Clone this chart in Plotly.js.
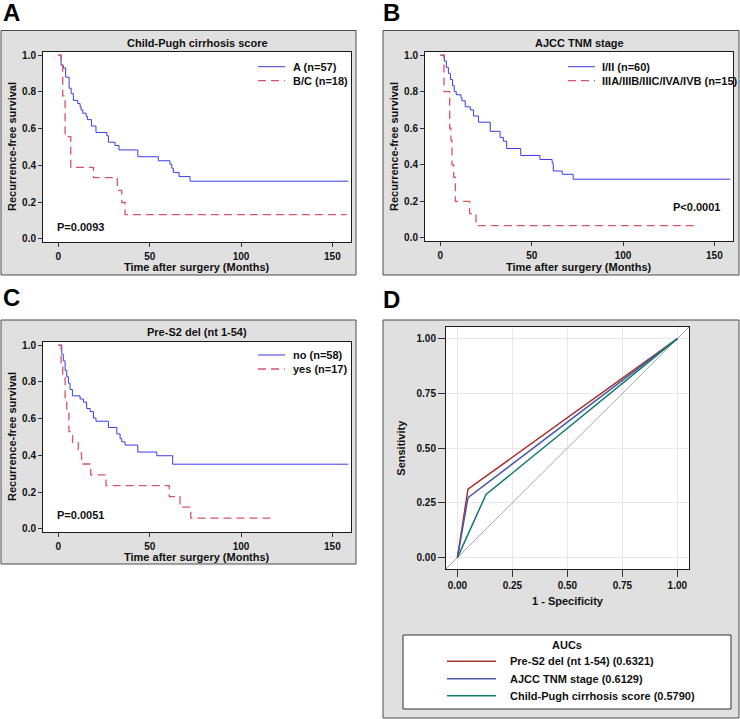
<!DOCTYPE html>
<html>
<head>
<meta charset="utf-8">
<script src="https://cdn.plot.ly/plotly-3.0.1.min.js"></script>
<style>
  html, body { margin: 0; padding: 0; background: #fff; }
  #chart { width: 740px; height: 719px; }
</style>
</head>
<body>
<div id="chart"></div>
<script>
// ---- data ----
const monthTicks = [0, 50, 100, 150];
const survTicks = [0, 0.2, 0.4, 0.6, 0.8, 1.0];
const rocTicks = [0, 0.25, 0.5, 0.75, 1];

// A: Child-Pugh cirrhosis score
const childA_t = [0, 1.5, 2.7, 4.0, 5.9, 7.0, 8.2, 10.6, 11.9, 12.4, 13.4, 15.2, 15.9, 18.1, 20.6, 26.5, 27.4, 31.0, 33.2, 43.5, 54.7, 61.1, 62.1, 62.9, 66.1, 72.1, 158.7];
const childA_s = [1, 0.946, 0.93, 0.88, 0.82, 0.79, 0.754, 0.737, 0.719, 0.702, 0.684, 0.667, 0.649, 0.614, 0.579, 0.561, 0.526, 0.508, 0.484, 0.447, 0.425, 0.406, 0.385, 0.362, 0.339, 0.314, 0.314];
const childBC_t = [0, 1.5, 2.4, 3.7, 6.8, 19.2, 32.3, 34.7, 36.5, 157.8];
const childBC_s = [1, 0.944, 0.778, 0.556, 0.389, 0.333, 0.264, 0.198, 0.132, 0.132];

// B: AJCC TNM stage
const stageLow_t = [0, 2.2, 3.3, 4.4, 5.5, 6.7, 7.6, 8.7, 11.3, 11.8, 13.6, 16.4, 18.2, 20.9, 27.3, 32.7, 34.5, 36.3, 44.0, 54.5, 61.2, 61.8, 66.7, 72.7, 158.7];
const stageLow_s = [1, 0.967, 0.933, 0.9, 0.867, 0.833, 0.8, 0.783, 0.767, 0.75, 0.717, 0.7, 0.667, 0.633, 0.583, 0.55, 0.529, 0.489, 0.451, 0.429, 0.41, 0.366, 0.348, 0.321, 0.321];
const stageHigh_t = [0, 2.0, 5.1, 5.8, 6.4, 7.3, 8.2, 16.0, 19.5, 140.8];
const stageHigh_s = [1, 0.8, 0.6, 0.533, 0.4, 0.333, 0.2, 0.133, 0.067, 0.067];

// C: Pre-S2 del (nt 1-54)
const delNo_t = [0, 1.9, 2.7, 3.7, 4.6, 5.5, 6.4, 7.7, 11.9, 13.7, 15.5, 17.4, 19.2, 20.6, 27.4, 32.0, 33.8, 34.7, 36.5, 43.5, 53.9, 62.6, 158.7];
const delNo_s = [1, 0.95, 0.914, 0.862, 0.828, 0.793, 0.759, 0.724, 0.707, 0.69, 0.655, 0.638, 0.603, 0.586, 0.552, 0.517, 0.491, 0.474, 0.456, 0.418, 0.398, 0.352, 0.352];
const delYes_t = [0, 1.5, 2.4, 3.7, 4.6, 5.8, 7.8, 10.9, 12.7, 17.7, 26.1, 60.7, 66.6, 72.5, 118.6];
const delYes_s = [1, 0.882, 0.824, 0.706, 0.647, 0.529, 0.471, 0.412, 0.353, 0.294, 0.235, 0.176, 0.118, 0.059, 0.059];

// D: ROC curves (1 - specificity, sensitivity)
const rocNames = ['Pre-S2 del (nt 1-54) (0.6321)', 'AJCC TNM stage (0.6129)', 'Child-Pugh cirrhosis score (0.5790)'];
const rocFpr = [[0, 0.048, 1], [0, 0.048, 1], [0, 0.13, 1]];
const rocSens = [[0, 0.3125, 1], [0, 0.2738, 1], [0, 0.288, 1]];
const chanceLine = [-0.06, 1.06];

// ---- style ----
const FONT = 'Liberation Sans, Arial, sans-serif';
const BLUE = '#3b3bea';
const RED = '#d9536c';
const rocColors = ['#a8322b', '#4b5aa8', '#117a6f'];
const GRAY = '#e0e0e0';
const W = 740, H = 719;

const px = (x) => x / W;
const py = (y) => 1 - y / H;

function kmTrace(t, s, color, dash, ax) {
    return {
        x: t, y: s, type: 'scatter', mode: 'lines',
        line: {shape: 'hv', color, width: dash ? 1.3 : 1, dash: dash || 'solid'},
        xaxis: 'x' + ax, yaxis: 'y' + ax,
        hoverinfo: 'skip', showlegend: false,
    };
}

function axis(domain, range, tickvals, extra) {
    return Object.assign({
        domain, range, tickvals,
        showline: true, mirror: true, linecolor: '#1a1a1a', linewidth: 1,
        ticks: 'outside', ticklen: 4, tickwidth: 1, tickcolor: '#333',
        showgrid: false, zeroline: false, fixedrange: true,
        tickfont: {family: FONT, size: 10, color: '#111', weight: 'bold'},
    }, extra || {});
}

function text(str, x, y, opts) {
    return Object.assign({
        text: str, xref: 'paper', yref: 'paper', x: px(x), y: py(y),
        showarrow: false, xanchor: 'center', yanchor: 'middle',
        font: {family: FONT, size: 11, color: '#111', weight: 'bold'},
    }, opts || {});
}

function box(x0, y0, x1, y1, fill, lineColor) {
    return {
        type: 'rect', xref: 'paper', yref: 'paper', layer: 'below',
        x0: px(x0), x1: px(x1), y0: py(y1), y1: py(y0),
        fillcolor: fill, line: {color: lineColor, width: 1},
    };
}

function plotBg(ax) {
    return {
        type: 'rect', xref: 'x' + ax + ' domain', yref: 'y' + ax + ' domain', layer: 'below',
        x0: 0, x1: 1, y0: 0, y1: 1, fillcolor: '#ffffff', line: {width: 0},
    };
}

function seg(x0, x1, y, color, dash, width) {
    return {
        type: 'line', xref: 'paper', yref: 'paper',
        x0: px(x0), x1: px(x1), y0: py(y), y1: py(y),
        line: {color, width: width || 1, dash: dash || 'solid'},
    };
}

const DASH = '8px,5px';
const letterFont = {family: FONT, size: 24, color: '#000', weight: 'bold'};

const data = [
    kmTrace(childA_t, childA_s, BLUE, null, ''),
    kmTrace(childBC_t, childBC_s, RED, DASH, ''),
    kmTrace(stageLow_t, stageLow_s, BLUE, null, '2'),
    kmTrace(stageHigh_t, stageHigh_s, RED, DASH, '2'),
    kmTrace(delNo_t, delNo_s, BLUE, null, '3'),
    kmTrace(delYes_t, delYes_s, RED, DASH, '3'),
    {
        x: chanceLine, y: chanceLine, type: 'scatter', mode: 'lines',
        line: {color: '#a6a6a6', width: 1}, xaxis: 'x4', yaxis: 'y4',
        hoverinfo: 'skip', showlegend: false,
    },
];
rocNames.forEach((name, i) => {
    data.push({
        x: rocFpr[i], y: rocSens[i], name, type: 'scatter', mode: 'lines',
        line: {color: rocColors[i], width: 1.5}, xaxis: 'x4', yaxis: 'y4',
        hoverinfo: 'skip', showlegend: false,
    });
});

const monthRange = [-8.4, 160.2];
const survRange = [-0.017, 1.017];
const rocRange = [-0.052, 1.053];

const layout = {
    width: W, height: H,
    margin: {l: 0, r: 0, t: 0, b: 0},
    paper_bgcolor: '#ffffff', plot_bgcolor: '#ffffff',
    showlegend: false,
    xaxis: axis([px(43), px(351)], monthRange, monthTicks, {anchor: 'y', ticklabelstandoff: 1}),
    yaxis: axis([py(242), py(52)], survRange, survTicks, {anchor: 'x', tickformat: '.1f'}),
    xaxis2: axis([px(425), px(733)], monthRange, monthTicks, {anchor: 'y2', ticklabelstandoff: 1}),
    yaxis2: axis([py(241), py(52)], survRange, survTicks, {anchor: 'x2', tickformat: '.1f'}),
    xaxis3: axis([px(43), px(351)], monthRange, monthTicks, {anchor: 'y3', ticklabelstandoff: 1}),
    yaxis3: axis([py(532), py(342)], survRange, survTicks, {anchor: 'x3', tickformat: '.1f'}),
    xaxis4: axis([px(446), px(689)], rocRange, rocTicks, {anchor: 'y4', tickformat: '.2f', ticklen: 7,
        showgrid: true, gridcolor: '#e8e8e8', gridwidth: 1}),
    yaxis4: axis([py(569), py(327)], rocRange, rocTicks, {anchor: 'x4', tickformat: '.2f', ticklen: 7,
        showgrid: true, gridcolor: '#e8e8e8', gridwidth: 1}),
    shapes: [
        box(1, 30.5, 356, 275, GRAY, '#4d4d4d'),
        box(383, 30.5, 739, 275, GRAY, '#4d4d4d'),
        box(1, 320, 356, 564, GRAY, '#4d4d4d'),
        box(383, 320, 739, 718, GRAY, '#4d4d4d'),
        plotBg(''), plotBg('2'), plotBg('3'), plotBg('4'),
        // KM legends
        seg(258, 285, 66.7, BLUE), seg(258, 285, 80.7, RED, DASH, 1.3),
        seg(568, 595, 66.7, BLUE), seg(568, 595, 80.7, RED, DASH, 1.3),
        seg(258, 285, 355, BLUE), seg(258, 285, 369, RED, DASH, 1.3),
        // ROC legend box
        {type: 'rect', xref: 'paper', yref: 'paper', x0: px(403), x1: px(731), y0: py(709), y1: py(635),
            fillcolor: '#ffffff', line: {color: '#333', width: 1}},
        seg(447, 496, 661.3, rocColors[0], null, 1.5),
        seg(447, 496, 678.7, rocColors[1], null, 1.5),
        seg(447, 496, 695.7, rocColors[2], null, 1.5),
    ],
    annotations: [
        // panel letters
        text('A', 11, 12.5, {font: letterFont}),
        text('B', 391, 12.5, {font: letterFont}),
        text('C', 11, 297.5, {font: letterFont}),
        text('D', 391, 299.5, {font: letterFont}),
        // titles
        text('Child-Pugh cirrhosis score', 197, 42.7),
        text('AJCC TNM stage', 579, 42.7),
        text('Pre-S2 del (nt 1-54)', 197, 332),
        // axis titles
        text('Recurrence-free survival', 12, 147, {textangle: -90}),
        text('Recurrence-free survival', 394, 147, {textangle: -90}),
        text('Recurrence-free survival', 12, 437, {textangle: -90}),
        text('Time after surgery (Months)', 197, 267),
        text('Time after surgery (Months)', 579, 267),
        text('Time after surgery (Months)', 197, 557),
        text('1 - Specificity', 567.5, 601),
        text('Sensitivity', 400.7, 448, {textangle: -90}),
        // legends
        text('A (n=57)', 291, 66.7, {xanchor: 'left'}),
        text('B/C (n=18)', 291, 80.7, {xanchor: 'left'}),
        text('I/II (n=60)', 600, 66.7, {xanchor: 'left'}),
        text('IIIA/IIIB/IIIC/IVA/IVB (n=15)', 600, 80.7, {xanchor: 'left'}),
        text('no (n=58)', 291, 355, {xanchor: 'left'}),
        text('yes (n=17)', 291, 369, {xanchor: 'left'}),
        // p values
        text('P=0.0093', 55, 226.7, {xanchor: 'left'}),
        text('P<0.0001', 721.5, 207.3, {xanchor: 'right'}),
        text('P=0.0051', 55, 515, {xanchor: 'left'}),
        // ROC legend
        text('AUCs', 567, 644.5),
        text(rocNames[0], 508, 661.3, {xanchor: 'left'}),
        text(rocNames[1], 508, 678.7, {xanchor: 'left'}),
        text(rocNames[2], 508, 695.7, {xanchor: 'left'}),
    ],
};

Plotly.newPlot('chart', data, layout, {displayModeBar: false, staticPlot: true});
</script>
</body>
</html>
